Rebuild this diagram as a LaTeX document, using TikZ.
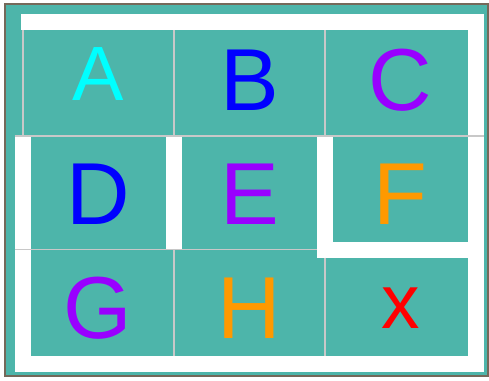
\documentclass[tikz,border=0pt]{standalone}
\usepackage{fontspec}
\setmainfont{Liberation Sans}
\usetikzlibrary{positioning}
\definecolor{mazeteal}{HTML}{4DB5AA}
\definecolor{framebrown}{HTML}{75695A}
\definecolor{gridgray}{HTML}{C8C8C8}
\definecolor{letterblue}{HTML}{0000FF}
\definecolor{lettercyan}{HTML}{00FFFF}
\definecolor{letterpurple}{HTML}{9900FF}
\definecolor{letterorange}{HTML}{FF9900}
\definecolor{letterred}{HTML}{FF0000}
\tikzset{wall/.style={fill=white}}
\tikzset{gridline/.style={draw=gridgray, line width=1.6pt}}
\tikzset{letter/.style={anchor=base, inner sep=0pt, font=\fontsize{88}{88}\selectfont}}
\tikzset{smallletter/.style={letter, font=\fontsize{77}{77}\selectfont}}

\begin{document}
\begin{tikzpicture}[x=1pt, y=-1pt]
        \useasboundingbox (0,0) rectangle (489,380);

        % Frame
        \draw[draw=framebrown, line width=2pt, fill=mazeteal] (4.5,3.5) rectangle (488,376);

        % Walls
        \fill[wall] (21.3,14) rectangle (483.7,30);
        \fill[wall] (467.7,14) rectangle (483.7,371.7);
        \fill[wall] (14.7,355.7) rectangle (483.7,371.7);
        \fill[wall] (14.7,135.7) rectangle (30.7,371.7);
        \fill[wall] (166,135.7) rectangle (181.7,249.5);
        \fill[wall] (317,135.7) rectangle (333,257.7);
        \fill[wall] (317,241.7) rectangle (483.7,257.7);

        % Grid
        \draw[gridline] (22.7,30) -- (22.7,135.7);
        \draw[gridline] (174,30) -- (174,135.7);
        \draw[gridline] (325,30) -- (325,135.7);
        \draw[gridline] (174,249.5) -- (174,355.7);
        \draw[gridline] (325,257.7) -- (325,355.7);
        \draw[gridline] (14.7,135.7) -- (484,135.7);
        \draw[gridline] (14.7,249.5) -- (317,249.5);

        % Nodes
        \node[smallletter, text=lettercyan] (cellA) at (98,100) {A};
        \node[letter, text=letterblue] (cellB) at (250,110) {B};
        \node[letter, text=letterpurple] (cellC) at (400.5,110) {C};
        \node[letter, text=letterblue] (cellD) at (98.3,224.3) {D};
        \node[letter, text=letterpurple] (cellE) at (250,224.3) {E};
        \node[letter, text=letterorange] (cellF) at (400.5,224.3) {F};
        \node[letter, text=letterpurple] (cellG) at (98,338.5) {G};
        \node[letter, text=letterorange] (cellH) at (249.5,338.3) {H};
        \node[smallletter, text=letterred] (cellX) at (400.3,328.3) {x};
    \end{tikzpicture}
\end{document}
